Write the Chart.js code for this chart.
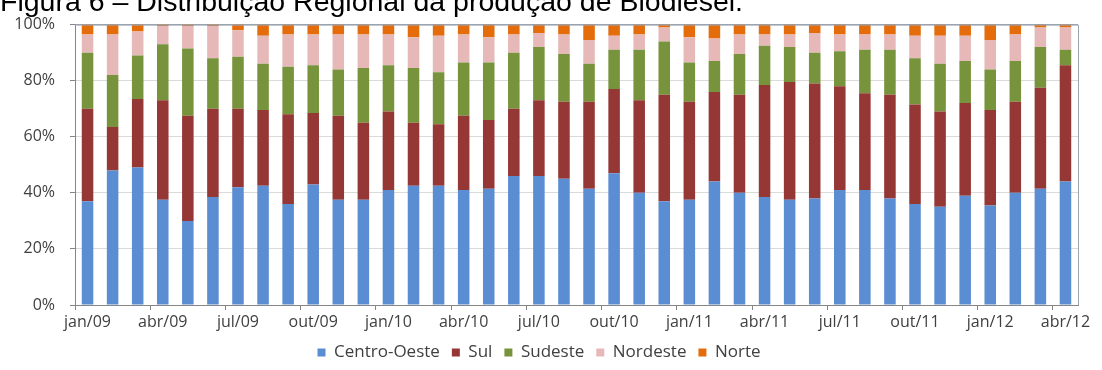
<!DOCTYPE html>
<html>
<head>
<meta charset="utf-8">
<script src="https://cdn.jsdelivr.net/npm/chart.js@4.4.1/dist/chart.umd.min.js"></script>
<style>
  html, body { margin: 0; padding: 0; background: #fff; overflow: hidden; }
  #wrap { position: relative; width: 1102px; height: 370px; }
  #title {
    position: absolute; left: 0; top: -13px; z-index: 2;
    font: 28.5px/1 "Liberation Sans", Arial, sans-serif; color: #000; white-space: nowrap;
  }
  canvas { position: absolute; left: 0; top: 0; }
</style>
</head>
<body>
<div id="wrap">
  <div id="title">Figura 6 – Distribuição Regional da produção de Biodiesel.</div>
  <canvas id="chart" width="1102" height="370"></canvas>
</div>
<script>
// Monthly categories, jan/09 – abr/12
const months = [
  'jan/09','fev/09','mar/09','abr/09','mai/09','jun/09','jul/09','ago/09','set/09','out/09','nov/09','dez/09',
  'jan/10','fev/10','mar/10','abr/10','mai/10','jun/10','jul/10','ago/10','set/10','out/10','nov/10','dez/10',
  'jan/11','fev/11','mar/11','abr/11','mai/11','jun/11','jul/11','ago/11','set/11','out/11','nov/11','dez/11',
  'jan/12','fev/12','mar/12','abr/12'
];

// Share of biodiesel production by region (%)
const centroOeste = [37, 48, 49, 37.5, 30, 38.5, 42, 42.5, 36, 43, 37.5, 37.5,
                     41, 42.5, 42.5, 41, 41.5, 46, 46, 45, 41.5, 47, 40, 37,
                     37.5, 44, 40, 38.5, 37.5, 38, 41, 41, 38, 36, 35, 39,
                     35.5, 40, 41.5, 44];
const sul         = [33, 15.5, 24.5, 35.5, 37.5, 31.5, 28, 27, 32, 25.5, 30, 27.5,
                     28, 22.5, 22, 26.5, 24.5, 24, 27, 27.5, 31, 30, 33, 38,
                     35, 32, 35, 40, 42, 41, 37, 34.5, 37, 35.5, 34, 33,
                     34, 32.5, 36, 41.5];
const sudeste     = [20, 18.5, 15.5, 20, 24, 18, 18.5, 16.5, 17, 17, 16.5, 19.5,
                     16.5, 19.5, 18.5, 19, 20.5, 20, 19, 17, 13.5, 14, 18, 19,
                     14, 11, 14.5, 14, 12.5, 11, 12.5, 15.5, 16, 16.5, 17, 15,
                     14.5, 14.5, 14.5, 5.5];
const nordeste    = [6.5, 14.5, 8.5, 6.5, 8, 11.5, 9.5, 10, 11.5, 11, 12.5, 12,
                     11, 11, 13, 10, 9, 6.5, 5, 7, 8.5, 5, 5.5, 5,
                     9, 8, 7, 4, 4.5, 7, 6, 5.5, 5.5, 8, 10, 9,
                     10.5, 9.5, 7, 8];
const norte       = [3.5, 3.5, 2.5, 0.5, 0.5, 0.5, 2, 4, 3.5, 3.5, 3.5, 3.5,
                     3.5, 4.5, 4, 3.5, 4.5, 3.5, 3, 3.5, 5.5, 4, 3.5, 1,
                     4.5, 5, 3.5, 3.5, 3.5, 3, 3.5, 3.5, 3.5, 4, 4, 4,
                     5.5, 3.5, 1, 1];

const yTicks = [0, 20, 40, 60, 80, 100];

const FAMILY = '"Open Sans", "DejaVu Sans", sans-serif';
const FONT = { family: FAMILY, size: 16 };
const LEGEND_FONT = { family: FAMILY, size: 17 };
const TEXT = '#404040';
const AXIS = '#868686';

// Outline of the plot area (right and top edges of the frame)
const plotFrame = {
  id: 'plotFrame',
  afterDatasetsDraw(chart) {
    const { ctx, chartArea: a } = chart;
    ctx.save();
    ctx.lineWidth = 1;
    ctx.strokeStyle = '#9aa3b0';
    ctx.beginPath();
    ctx.moveTo(a.left, a.top + 0.5);
    ctx.lineTo(a.right + 0.5, a.top + 0.5);
    ctx.lineTo(a.right + 0.5, a.bottom);
    ctx.stroke();
    ctx.restore();
  }
};

const series = [
  { label: 'Centro-Oeste', data: centroOeste, color: '#5b8dd3' },
  { label: 'Sul',          data: sul,         color: '#953735' },
  { label: 'Sudeste',      data: sudeste,     color: '#77933c' },
  { label: 'Nordeste',     data: nordeste,    color: '#e6b9b8' },
  { label: 'Norte',        data: norte,       color: '#e46c0a' }
];

new Chart(document.getElementById('chart'), {
  type: 'bar',
  data: {
    labels: months,
    datasets: series.map(s => ({
      label: s.label,
      data: s.data,
      backgroundColor: s.color,
      borderWidth: 0,
      categoryPercentage: 1,
      barPercentage: 0.46
    }))
  },
  options: {
    responsive: false,
    animation: false,
    devicePixelRatio: 1,
    layout: { padding: { top: 20, right: 24, bottom: -1, left: 0 } },
    plugins: {
      title: { display: false },
      tooltip: { enabled: false },
      legend: {
        position: 'bottom',
        labels: {
          font: LEGEND_FONT, color: TEXT,
          boxWidth: 8, boxHeight: 8,
          padding: 12
        }
      }
    },
    scales: {
      x: {
        stacked: true,
        offset: true,
        grid: {
          offset: true,
          drawOnChartArea: false,
          drawTicks: true,
          tickLength: 5,
          tickColor: ctx => (ctx.index % 3 === 0 ? AXIS : 'rgba(0,0,0,0)')
        },
        border: { display: true, color: AXIS, width: 1 },
        ticks: {
          autoSkip: false, maxRotation: 0, minRotation: 0,
          padding: 3, font: FONT, color: TEXT,
          callback: (v, i) => (i % 3 === 0 ? months[i] : '')
        },
        afterFit: scale => { scale.height = 27; }
      },
      y: {
        stacked: true,
        min: 0, max: 100,
        afterBuildTicks: scale => { scale.ticks = yTicks.map(v => ({ value: v })); },
        grid: {
          color: ctx => (ctx.tick && ctx.tick.value === 100 ? '#9aa3b0' : '#dadada'),
          tickColor: AXIS,
          tickLength: 5,
          drawTicks: true
        },
        border: { display: true, color: AXIS, width: 1 },
        ticks: {
          padding: 15, font: FONT, color: TEXT,
          callback: v => v + '%'
        },
        afterFit: scale => { scale.width = 75; }
      }
    }
  },
  plugins: [plotFrame]
});
</script>
</body>
</html>
